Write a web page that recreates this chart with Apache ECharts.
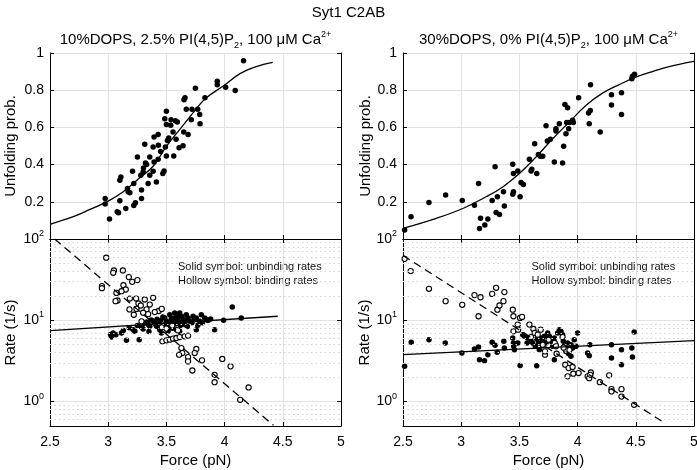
<!DOCTYPE html>
<html><head><meta charset="utf-8">
<script src="https://cdn.jsdelivr.net/npm/echarts/dist/echarts.min.js"></script>
<style>html,body{margin:0;padding:0;background:#fff}#c{width:697px;height:470px}</style>
</head><body><div id="c"></div>
<script>
// ---------------- DATA ----------------
const forceRange = [2.5, 5];
const probRange = [0, 1];
const rateRange = [0.5, 100];
const minorRateLines = [0.6,0.7,0.8,0.9,2,3,4,5,6,7,8,9,20,30,40,50,60,70,80,90];

// Left: 10%DOPS, 2.5% PI(4,5)P2 -- unfolding probability vs force
const probLeft = [
 [4.163,0.959],[3.937,0.848],[3.937,0.829],[4.009,0.816],[4.091,0.798],[3.749,0.811],[3.831,0.759],
 [3.651,0.748],[3.66,0.759],[3.671,0.698],[3.72,0.698],[3.769,0.698],[3.786,0.670],[3.714,0.641],
 [3.789,0.620],[3.5,0.687],[3.486,0.646],[3.54,0.641],[3.577,0.636],[3.594,0.629],[3.5,0.616],
 [3.537,0.611],[3.557,0.575],[3.649,0.575],[3.686,0.562],[3.429,0.562],[3.394,0.548],[3.314,0.509],
 [3.386,0.495],[3.431,0.504],[3.491,0.495],[3.52,0.543],[3.509,0.530],[3.583,0.536],[3.643,0.502],
 [3.609,0.491],[3.5,0.446],[3.563,0.446],[3.251,0.441],[3.357,0.441],[3.429,0.429],[3.32,0.409],
 [3.394,0.414],[3.209,0.364],[3.303,0.382],[3.48,0.366],[3.469,0.352],[3.28,0.343],[3.357,0.343],
 [3.386,0.364],[3.109,0.334],[3.1,0.316],[3.22,0.298],[3.343,0.298],[3.414,0.307],[3.166,0.271],
 [3.171,0.254],[3.186,0.248],[3.286,0.263],[3.1,0.205],[2.974,0.218],[2.974,0.188],[3.234,0.195],
 [3.22,0.180],[3.286,0.218],[3.151,0.164],[3.077,0.146],[3.089,0.141],[3.011,0.107],[3.33,0.40],
 [3.45,0.47],[3.30,0.36]
];
const probFitLeft = [
 [2.5,0.079],[2.7,0.12],[2.843,0.159],[3.0,0.204],[3.129,0.254],[3.271,0.329],[3.386,0.391],
 [3.5,0.498],[3.643,0.611],[3.757,0.70],[3.843,0.759],[3.994,0.825],[4.129,0.888],[4.271,0.927],[4.414,0.95]
];

// Right: 30%DOPS, 0% PI(4,5)P2 -- unfolding probability vs force
const probRight = [
 [2.514,0.048],[2.569,0.12],[2.723,0.196],[2.866,0.236],[3.009,0.207],[3.114,0.182],[3.149,0.298],
 [3.166,0.111],[3.157,0.057],[3.203,0.075],[3.229,0.107],[3.266,0.207],[3.291,0.388],[3.3,0.143],
 [3.311,0.227],[3.329,0.132],[3.363,0.254],[3.371,0.177],[3.443,0.402],[3.449,0.352],[3.449,0.254],
 [3.443,0.241],[3.486,0.366],[3.506,0.227],[3.514,0.304],[3.534,0.293],[3.586,0.429],[3.6,0.366],
 [3.606,0.375],[3.631,0.5125],[3.649,0.352],[3.663,0.454],[3.68,0.445],[3.7,0.445],[3.729,0.609],
 [3.74,0.527],[3.766,0.536],[3.8,0.414],[3.814,0.593],[3.814,0.58],[3.843,0.62],[3.871,0.409],
 [3.88,0.498],[3.891,0.723],[3.9,0.566],[3.906,0.627],[3.914,0.705],[3.923,0.593],[3.929,0.627],
 [3.957,0.638],[3.963,0.627],[4.009,0.759],[4.094,0.677],[4.1,0.62],[4.109,0.691],[4.111,0.829],
 [4.194,0.575],[4.291,0.775],[4.291,0.721],[4.377,0.786],[4.377,0.67],[4.466,0.861],[4.471,0.875],[4.489,0.886]
];
const probFitRight = [
 [2.5,0.057],[2.786,0.111],[3.014,0.164],[3.214,0.227],[3.357,0.28],[3.5,0.352],[3.643,0.441],
 [3.786,0.539],[3.929,0.629],[4.071,0.718],[4.214,0.784],[4.357,0.83],[4.5,0.87],[4.643,0.9],[4.786,0.927],[5.0,0.955]
];

// Left rates (1/s): solid = unbinding, hollow = binding
const unbindLeft = [
 [3.029,6.22],[3.043,6.98],[3.066,6.65],[3.114,6.98],[3.157,5.66],[3.214,7.67],[3.229,7.31],[3.266,5.77],
 [3.286,8.27],[3.3,7.82],[3.343,8.84],[3.357,8.44],[3.386,9.72],[3.4,9.1],[3.414,8.44],[3.429,9.44],
 [3.443,7.67],[3.457,6.98],[3.471,8.59],[3.486,10.7],[3.5,9.72],[3.514,7.31],[3.529,11.7],[3.543,10.7],
 [3.557,9.27],[3.571,12.3],[3.586,11.2],[3.6,9.72],[3.614,12.3],[3.629,11.2],[3.643,10.2],[3.657,8.84],
 [3.671,11.7],[3.686,10.7],[3.7,9.72],[3.586,7.67],[3.614,7.31],[3.729,11.2],[3.757,10.7],[3.786,9.72],
 [3.8,11.7],[3.829,10.7],[3.857,9.9],[3.914,7.67],[3.757,7.67],[3.991,10],[4.066,14.6],[4.143,10.7],
 [3.843,10.2],[3.3,9.0],[3.33,9.5],[3.37,10.1],[3.42,10.3],[3.45,9.9],[3.47,11.0],[3.49,8.9],[3.52,8.3],
 [3.53,9.6],[3.55,8.0],[3.56,10.4],[3.58,9.0],[3.6,11.0],[3.62,8.6],[3.64,9.5],[3.66,10.0],[3.68,8.4],
 [3.72,9.3],[3.74,10.2],[3.77,8.7],[3.81,9.3],[3.88,10.4],[3.25,8.6],[3.18,8.1],[3.13,7.5],[3.02,6.7],
 [3.35,7.3],[3.44,8.0]
];
const bindLeft = [
 [2.983,58.9],[2.946,26.3],[2.946,24.8],[3.049,41],[3.043,38.4],[3.126,41],[3.177,34],[3.206,29.7],
 [3.251,31.2],[3.131,27],[3.151,23.9],[3.114,22.8],[3.071,21.7],[3.08,17.5],[3.063,17.2],[3.186,18.5],
 [3.24,18.5],[3.314,18],[3.26,16.1],[3.183,13.6],[3.243,13.8],[3.28,15.2],[3.329,13.6],[3.357,15.6],
 [3.386,18.9],[3.434,13],[3.46,13.8],[3.22,11.7],[3.286,9.7],[3.3,12.4],[3.343,11.9],[3.4,12.6],
 [3.46,8.2],[3.5,7.9],[3.55,8.6],[3.6,7.5],
 [3.466,5.5],[3.5,5.66],[3.529,5.77],[3.557,5.94],[3.586,6.05],[3.614,6.22],[3.657,6.34],[3.686,6.47],
 [3.629,4.55],[3.757,4.43],[3.637,3.95],[3.609,3.77],[3.686,3.52],[3.686,3.12],[3.743,3.95],[3.806,3.21],
 [3.723,2.41],[3.98,3.34],[4.051,2.71],[3.914,2.13],[3.914,1.73],[4.206,1.49],[4.134,1.05]
];
const unbindFitLeft = [[2.5,7.45],[4.457,11.2]];
const bindFitLeft = [[2.54,100],[4.42,0.51]];

// Right rates (1/s)
const unbindRight = [
 [2.571,5.35],[2.723,5.77],[2.863,5.25],[2.514,2.71],[3.006,3.95],[3.114,4.43],[3.149,4.69],[3.157,3.27],
 [3.2,3.18],[3.229,3.77],[3.266,5.35],[3.291,4.91],[3.309,4.03],[3.366,5.5],[3.371,4.55],[3.443,6.05],
 [3.449,5.25],[3.451,4.78],[3.457,4.35],[3.486,5.25],[3.506,2.78],[3.529,6.65],[3.543,6.34],[3.566,5.25],
 [3.571,6.05],[3.6,5.5],[3.614,5.25],[3.637,4.78],[3.651,5.89],[3.666,5.25],[3.671,4.35],[3.649,2.75],
 [3.686,6.05],[3.7,5.5],[3.714,6.34],[3.729,5.25],[3.743,6.98],[3.757,6.34],[3.771,5.5],[3.786,4.78],
 [3.8,6.05],[3.814,5.01],[3.829,6.98],[3.843,7.67],[3.857,7.31],[3.871,6.65],[3.877,5.5],[3.886,4.78],
 [3.9,4.55],[3.914,5.25],[3.929,4.35],[3.943,5.01],[3.957,4.55],[3.971,5.77],[3.986,4.78],[4.0,6.98],
 [3.8,3.27],[4.086,3.95],[4.1,3.66],[4.106,5.0],[4.291,5.0],[4.291,3.43],[4.377,4.35],[4.377,2.84],
 [4.466,4.55],[4.471,3.52],[4.486,7.18],[3.9,4.14],[3.923,3.87],[3.943,3.6]
];
const bindRight = [
 [2.514,57],[2.566,40.3],[2.723,24.4],[2.866,17.2],[3.009,15.5],[3.114,20.4],[3.149,11.2],[3.166,19.2],
 [3.266,21.1],[3.3,25.1],[3.311,13.5],[3.329,15.2],[3.363,17.2],[3.371,22.2],[3.443,13.5],[3.449,11.2],
 [3.486,8.84],[3.506,10.7],[3.523,11],[3.449,7.31],[3.489,7.67],[3.586,8.84],[3.62,7.82],[3.631,6.98],
 [3.6,6.22],[3.657,6.65],[3.683,7.67],[3.7,5],[3.72,3.77],[3.72,4.14],[3.751,5.77],[3.803,5.25],
 [3.814,4.78],[3.82,3.87],[3.871,6.22],[3.894,2.84],[3.923,2.58],[3.914,2.04],[3.957,2.66],[3.963,2.2],
 [4.009,2.24],[4.086,2.04],[4.1,1.94],[4.114,2.28],[4.109,2.13],[4.191,1.73],[4.271,2.1],[4.291,1.42],
 [4.291,1.33],[4.377,1.42],[4.377,1.15],[4.486,0.91],[3.9,4.35],[3.88,4.6],[3.93,4.3]
];
const unbindFitRight = [[2.5,3.77],[5.0,5.62]];
const bindFitRight = [[2.5,62.8],[4.743,0.55]];

const titleText = 'Syt1 C2AB';
const leftSub = '{n|10%DOPS, 2.5% PI(4,5)P}{sub|2}{n|, 100 μM Ca}{sup|2+}';
const rightSub = '{n|30%DOPS, 0% PI(4,5)P}{sub|2}{n|, 100 μM Ca}{sup|2+}';
const noteLines = ['Solid symbol: unbinding rates', 'Hollow symbol: binding rates'];

// ---------------- CHART ----------------
const FONT = '"Liberation Sans", Arial, Helvetica, sans-serif';
const chart = echarts.init(document.getElementById('c'), null, {renderer: 'canvas'});

const grids = [
  {left: 50, top: 53, width: 291, height: 186},
  {left: 50, top: 239, width: 291, height: 187},
  {left: 403, top: 53, width: 291, height: 186},
  {left: 403, top: 239, width: 291, height: 187}
].map(g => Object.assign({containLabel: false, outerBoundsMode: 'none', show: false}, g));

const axLine = {show: true, lineStyle: {color: '#000', width: 1}};
const tick = {show: true, inside: true, length: 4, lineStyle: {color: '#000', width: 1}};
const gridLine = {show: true, lineStyle: {color: '#e2e2e2', width: 1, type: 'solid'}};
const lbl = {color: '#000', fontSize: 14, fontFamily: FONT};

function xAxisMain(i, showLabels) {
  return {gridIndex: i, type: 'value', min: forceRange[0], max: forceRange[1], interval: 0.5,
    position: 'bottom', axisLine: axLine, axisTick: tick, splitLine: gridLine,
    axisLabel: Object.assign({show: showLabels, margin: 9}, lbl),
    name: showLabels ? 'Force (pN)' : '', nameLocation: 'middle', nameGap: 27,
    nameTextStyle: {color: '#000', fontSize: 15, fontFamily: FONT}};
}
function xAxisTop(i) {
  return {gridIndex: i, type: 'value', min: forceRange[0], max: forceRange[1], interval: 0.5,
    position: 'top', axisLine: axLine, axisTick: tick, splitLine: {show: false}, axisLabel: {show: false}};
}
const logLabelRich = {
  b: {fontSize: 14, color: '#000', fontFamily: FONT, lineHeight: 20},
  s: {fontSize: 9, color: '#000', fontFamily: FONT, lineHeight: 11, verticalAlign: 'top'}
};
function logFmt(v) {
  const l = Math.log10(v), e = Math.round(l);
  if (Math.abs(l - e) > 1e-6) return '';
  return '{b|10}{s|' + e + '}';
}
function yProb(i, gap) {
  return {gridIndex: i, type: 'value', min: probRange[0], max: probRange[1], interval: 0.2, position: 'left',
    axisLine: axLine, axisTick: tick, splitLine: gridLine,
    axisLabel: Object.assign({showMinLabel: false, margin: 6}, lbl),
    name: 'Unfolding prob.', nameLocation: 'middle', nameGap: gap, nameRotate: 90,
    nameTextStyle: {color: '#000', fontSize: 15, fontFamily: FONT}};
}
function yRate(i, gap) {
  return {gridIndex: i, type: 'log', logBase: 10, min: rateRange[0], max: rateRange[1], position: 'left',
    axisLine: axLine, axisTick: tick, splitLine: gridLine,
    axisLabel: {formatter: logFmt, rich: logLabelRich, margin: 6, showMinLabel: false},
    name: 'Rate (1/s)', nameLocation: 'middle', nameGap: gap, nameRotate: 90,
    nameTextStyle: {color: '#000', fontSize: 15, fontFamily: FONT}};
}
function yRight(i, log) {
  const a = {gridIndex: i, position: 'right', axisLine: axLine, axisTick: tick,
    splitLine: {show: false}, axisLabel: {show: false}};
  if (log) Object.assign(a, {type: 'log', logBase: 10, min: rateRange[0], max: rateRange[1]});
  else Object.assign(a, {type: 'value', min: probRange[0], max: probRange[1], interval: 0.2});
  return a;
}

const xAxes = [xAxisMain(0,false), xAxisMain(1,true), xAxisMain(2,false), xAxisMain(3,true),
               xAxisTop(0), xAxisTop(1), xAxisTop(2), xAxisTop(3)];
const yAxes = [yProb(0, 32), yRate(1, 32), yProb(2, 21), yRate(3, 21),
               yRight(0,false), yRight(1,true), yRight(2,false), yRight(3,true)];

function solid(data, gi, size) {
  return {type: 'scatter', xAxisIndex: gi, yAxisIndex: gi, data, symbol: 'circle', symbolSize: size || 5.5,
    itemStyle: {color: '#000', opacity: 1}, z: 3, silent: true};
}
function hollow(data, gi) {
  return {type: 'scatter', xAxisIndex: gi, yAxisIndex: gi, data, symbol: 'circle', symbolSize: 5.2,
    itemStyle: {color: '#fff', borderColor: '#000', borderWidth: 1.1, opacity: 1}, z: 4, silent: true};
}
function fit(data, gi, dashed, smooth) {
  return {type: 'line', xAxisIndex: gi, yAxisIndex: gi, data, showSymbol: false, symbol: 'none',
    smooth: smooth ? 0.4 : false, clip: true, z: 6, silent: true,
    lineStyle: {color: '#000', width: 1.3, type: dashed ? [8, 5] : 'solid'}};
}
function minorGrid(gi) {
  return {type: 'line', xAxisIndex: gi, yAxisIndex: gi, data: [], z: 1, silent: true,
    markLine: {silent: true, symbol: ['none','none'], label: {show: false},
      lineStyle: {color: '#d4d4d4', type: [1.5, 3], width: 1},
      data: minorRateLines.map(v => ({yAxis: v}))}};
}

const graphics = [
  {type: 'text', x: 348.5, y: 13, style: {text: titleText, fill: '#000',
    fontSize: 15, fontFamily: FONT, align: 'center', verticalAlign: 'middle', textAlign: 'center', textVerticalAlign: 'middle'}},
];
const subRich = {
  n: {fontSize: 15, fontFamily: FONT, fill: '#000', color: '#000', lineHeight: 20},
  sub: {fontSize: 9, fontFamily: FONT, fill: '#000', color: '#000', lineHeight: 9, verticalAlign: 'bottom'},
  sup: {fontSize: 9, fontFamily: FONT, fill: '#000', color: '#000', lineHeight: 11, verticalAlign: 'top'}
};
[[195.5, leftSub], [548.5, rightSub]].forEach(([x, t]) => graphics.push(
  {type: 'text', x: x, y: 40, style: {text: t, rich: subRich, fill: '#000', fontSize: 15, fontFamily: FONT,
    align: 'center', verticalAlign: 'middle', textAlign: 'center', textVerticalAlign: 'middle'}}));
[178, 531.5].forEach(x => noteLines.forEach((t, k) => graphics.push(
  {type: 'text', x: x, y: 267 + k * 14, style: {text: t, fill: '#111', fontSize: 11, fontFamily: FONT,
    align: 'left', verticalAlign: 'middle', textAlign: 'left', textVerticalAlign: 'middle'}})));

chart.setOption({
  backgroundColor: '#fff',
  animation: false,
  textStyle: {fontFamily: FONT},
  grid: grids,
  xAxis: xAxes,
  yAxis: yAxes,
  graphic: graphics,
  series: [
    minorGrid(1), minorGrid(3),
    solid(probLeft, 0, 5.5), fit(probFitLeft, 0, false, true),
    solid(probRight, 2, 5.5), fit(probFitRight, 2, false, true),
    solid(unbindLeft, 1, 5.5), hollow(bindLeft, 1), fit(unbindFitLeft, 1, false), fit(bindFitLeft, 1, true),
    solid(unbindRight, 3, 5.5), hollow(bindRight, 3), fit(unbindFitRight, 3, false), fit(bindFitRight, 3, true)
  ]
});
</script>
</body></html>
